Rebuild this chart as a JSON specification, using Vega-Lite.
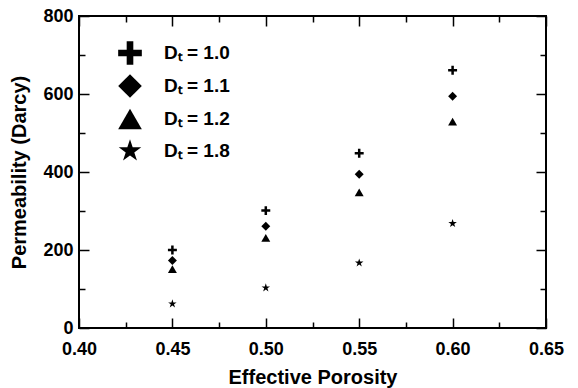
{
  "$schema": "https://vega.github.io/schema/vega-lite/v6.json",
  "width": 467,
  "height": 312,
  "autosize": {"type": "none"},
  "padding": {"left": 79, "top": 16, "right": 32, "bottom": 60},
  "background": "white",
  "config": {
    "font": "Liberation Sans",
    "view": {"stroke": "black", "strokeWidth": 2},
    "axis": {
      "grid": false,
      "domain": false,
      "tickColor": "black",
      "tickWidth": 1.5,
      "labelColor": "black",
      "labelFontSize": 18,
      "labelFontWeight": "bold",
      "labelFont": "Liberation Sans",
      "titleColor": "black",
      "titleFontSize": 20,
      "titleFontWeight": "bold",
      "titleFont": "Liberation Sans",
      "labelOverlap": false,
      "labelFlush": false,
      "labelBound": false
    }
  },
  "data": {
    "values": [
      {"porosity": 0.45, "perm": 200, "dt": "1.0"},
      {"porosity": 0.45, "perm": 173, "dt": "1.1"},
      {"porosity": 0.45, "perm": 151, "dt": "1.2"},
      {"porosity": 0.45, "perm": 62, "dt": "1.8"},
      {"porosity": 0.50, "perm": 301, "dt": "1.0"},
      {"porosity": 0.50, "perm": 261, "dt": "1.1"},
      {"porosity": 0.50, "perm": 231, "dt": "1.2"},
      {"porosity": 0.50, "perm": 103, "dt": "1.8"},
      {"porosity": 0.55, "perm": 448, "dt": "1.0"},
      {"porosity": 0.55, "perm": 394, "dt": "1.1"},
      {"porosity": 0.55, "perm": 348, "dt": "1.2"},
      {"porosity": 0.55, "perm": 167, "dt": "1.8"},
      {"porosity": 0.60, "perm": 661, "dt": "1.0"},
      {"porosity": 0.60, "perm": 594, "dt": "1.1"},
      {"porosity": 0.60, "perm": 529, "dt": "1.2"},
      {"porosity": 0.60, "perm": 268, "dt": "1.8"}
    ]
  },
  "layer": [
    {
      "mark": {"type": "point", "filled": true, "color": "black", "opacity": 1, "size": 80},
      "encoding": {
        "x": {
          "field": "porosity", "type": "quantitative",
          "scale": {"domain": [0.4, 0.65], "nice": false, "zero": false},
          "axis": {
            "orient": "bottom",
            "title": "Effective Porosity",
            "values": [0.4, 0.45, 0.5, 0.55, 0.6, 0.65],
            "format": ".2f",
            "ticks": false,
            "labelPadding": 12,
            "titlePadding": 9
          }
        },
        "y": {
          "field": "perm", "type": "quantitative",
          "scale": {"domain": [0, 800], "nice": false},
          "axis": {
            "orient": "left",
            "title": "Permeability (Darcy)",
            "values": [0, 200, 400, 600, 800],
            "format": "d",
            "ticks": false,
            "labelPadding": 6,
            "titlePadding": 13
          }
        },
        "shape": {
          "field": "dt", "type": "nominal",
          "scale": {
            "domain": ["1.0", "1.1", "1.2", "1.8"],
            "range": [
              "M-1,-0.28H-0.28V-1H0.28V-0.28H1V0.28H0.28V1H-0.28V0.28H-1Z",
              "diamond",
              "triangle-up",
              "M0,-1L0.225,-0.309L0.951,-0.309L0.363,0.118L0.588,0.809L0,0.382L-0.588,0.809L-0.363,0.118L-0.951,-0.309L-0.225,-0.309Z"
            ]
          },
          "legend": {
            "title": null,
            "orient": "none",
            "legendX": 39,
            "legendY": 25,
            "symbolSize": 560,
            "symbolFillColor": "black",
            "symbolStrokeColor": "black",
            "symbolStrokeWidth": 0,
            "labelExpr": "'Dₜ = ' + datum.label",
            "labelFontSize": 19,
            "labelFontWeight": "bold",
            "labelColor": "black",
            "labelFont": "Liberation Sans",
            "labelOffset": 22,
            "rowPadding": 9,
            "padding": 0
          }
        }
      }
    },
    {
      "mark": {"type": "point", "opacity": 0},
      "encoding": {
        "x": {
          "field": "porosity", "type": "quantitative",
          "axis": {
            "orient": "bottom",
            "title": null,
            "labels": false,
            "values": [0.4, 0.425, 0.45, 0.475, 0.5, 0.525, 0.55, 0.575, 0.6, 0.625, 0.65],
            "tickSize": {"condition": {"test": "abs(datum.value*20 - round(datum.value*20)) < 0.001", "value": -10}, "value": -6}
          }
        },
        "y": {
          "field": "perm", "type": "quantitative",
          "axis": {
            "orient": "left",
            "title": null,
            "labels": false,
            "values": [0, 100, 200, 300, 400, 500, 600, 700, 800],
            "tickSize": {"condition": {"test": "datum.value % 200 == 0", "value": -10}, "value": -6}
          }
        }
      }
    },
    {
      "mark": {"type": "point", "opacity": 0},
      "encoding": {
        "x": {
          "field": "porosity", "type": "quantitative",
          "axis": {
            "orient": "top",
            "title": null,
            "labels": false,
            "values": [0.4, 0.425, 0.45, 0.475, 0.5, 0.525, 0.55, 0.575, 0.6, 0.625, 0.65],
            "tickSize": {"condition": {"test": "abs(datum.value*20 - round(datum.value*20)) < 0.001", "value": -10}, "value": -6}
          }
        },
        "y": {
          "field": "perm", "type": "quantitative",
          "axis": {
            "orient": "right",
            "title": null,
            "labels": false,
            "values": [0, 100, 200, 300, 400, 500, 600, 700, 800],
            "tickSize": {"condition": {"test": "datum.value % 200 == 0", "value": -10}, "value": -6}
          }
        }
      }
    }
  ],
  "resolve": {"axis": {"x": "independent", "y": "independent"}}
}
